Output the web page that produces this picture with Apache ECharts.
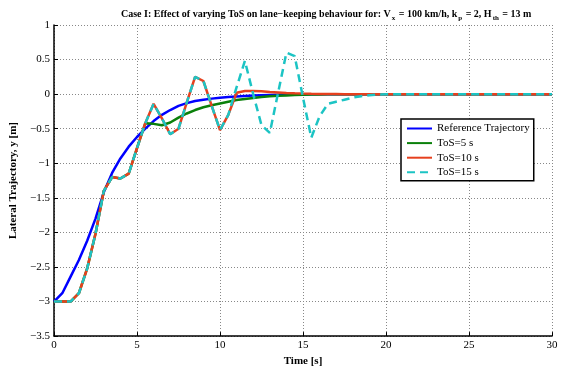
<!DOCTYPE html>
<html>
<head>
<meta charset="utf-8">
<script src="https://cdn.jsdelivr.net/npm/echarts@6/dist/echarts.min.js"></script>
<style>
  html, body { margin: 0; padding: 0; background: #fff; }
  #chart { width: 561px; height: 372px; }
</style>
</head>
<body>
<div id="chart"></div>
<script>
// time samples [s]
const time = [0, 0.5, 1, 1.5, 2, 2.5, 3, 3.5, 4, 4.5, 5, 5.5, 6, 6.5, 7, 7.5, 8, 8.5, 9, 9.5,
  10, 10.5, 11, 11.5, 12, 12.5, 13, 13.5, 14, 14.5, 15, 15.5, 16, 16.5, 17, 17.5, 18, 18.5, 19, 19.5, 20, 30];

const refTrajectory = [-3.0, -2.88, -2.64, -2.40, -2.12, -1.80, -1.42, -1.14, -0.93, -0.76, -0.62, -0.50, -0.39, -0.30, -0.23, -0.17, -0.13, -0.10, -0.08, -0.065,
  -0.052, -0.042, -0.034, -0.027, -0.021, -0.016, -0.012, -0.009, -0.007, -0.005, -0.004, -0.003, -0.002, -0.001, 0, 0, 0, 0, 0, 0, 0, 0];

const tos5 = [-3.0, -3.0, -3.0, -2.88, -2.52, -2.02, -1.40, -1.20, -1.22, -1.15, -0.78, -0.42, -0.43, -0.45, -0.41, -0.34, -0.28, -0.23, -0.19, -0.16,
  -0.135, -0.11, -0.085, -0.07, -0.055, -0.042, -0.032, -0.024, -0.018, -0.013, -0.009, -0.006, -0.004, -0.002, -0.001, 0, 0, 0, 0, 0, 0, 0];

const tos10 = [-3.0, -3.0, -3.0, -2.88, -2.52, -2.02, -1.40, -1.20, -1.22, -1.15, -0.78, -0.42, -0.14, -0.35, -0.58, -0.50, -0.12, 0.25, 0.19, -0.17,
  -0.52, -0.30, 0.02, 0.045, 0.045, 0.04, 0.032, 0.025, 0.018, 0.012, 0.008, 0.005, 0.003, 0.002, 0.001, 0, 0, 0, 0, 0, 0, 0];

const tos15 = [-3.0, -3.0, -3.0, -2.88, -2.52, -2.02, -1.40, -1.20, -1.22, -1.15, -0.78, -0.42, -0.14, -0.35, -0.58, -0.50, -0.12, 0.25, 0.19, -0.17,
  -0.52, -0.30, 0.10, 0.48, 0.0, -0.45, -0.56, 0.02, 0.60, 0.55, -0.05, -0.63, -0.32, -0.14, -0.11, -0.08, -0.05, -0.03, -0.015, -0.008, 0, 0];

const seriesNames = ['Reference Trajectory', 'ToS=5 s', 'ToS=10 s', 'ToS=15 s'];
const seriesColors = ['#0000ff', '#0a800a', '#e6401e', '#1cc4c4'];

const chart = echarts.init(document.getElementById('chart'));
const serif = '"Liberation Serif", "DejaVu Serif", serif';

function pairs(vals) {
  return time.map((t, i) => [t, vals[i]]);
}

const allData = [refTrajectory, tos5, tos10, tos15];

const option = {
  animation: false,
  backgroundColor: '#fff',
  title: {
    text: '{b|Case I: Effect of varying ToS on lane\u2212keeping behaviour for: V}{s|x}{b| = 100 km/h, k}{s|p}{b| = 2, H}{s|th}{b| = 13 m}',
    left: 116,
    top: 3,
    textStyle: {
      rich: {
        b: { fontFamily: serif, fontWeight: 'bold', fontSize: 10, color: '#000', lineHeight: 13 },
        s: { fontFamily: serif, fontWeight: 'bold', fontSize: 7, color: '#000', padding: [8, 1, 0, 1], lineHeight: 13 }
      }
    }
  },
  grid: { left: 52, right: 9, top: 25, bottom: 29, containLabel: false },
  legend: {
    orient: 'vertical',
    left: 401,
    top: 119,
    data: seriesNames,
    itemWidth: 25,
    itemHeight: 12,
    itemGap: 3.6,
    padding: [4, 4, 3, 5],
    borderColor: '#000',
    borderWidth: 1.5,
    backgroundColor: '#fff',
    itemStyle: { color: 'transparent', borderColor: 'transparent', borderWidth: 0, opacity: 0 },
    textStyle: { fontFamily: serif, fontSize: 11, color: '#000' }
  },
  xAxis: {
    type: 'value',
    min: 0,
    max: 30,
    interval: 5,
    name: 'Time [s]',
    nameLocation: 'middle',
    nameGap: 14,
    nameTextStyle: { fontFamily: serif, fontWeight: 'bold', fontSize: 11, color: '#000' },
    axisLine: { onZero: false, lineStyle: { color: '#000', width: 1.5 } },
    axisTick: { inside: true, length: 4, lineStyle: { color: '#000' } },
    axisLabel: { fontFamily: serif, fontSize: 11, color: '#000', margin: 4 },
    splitLine: { show: true, lineStyle: { color: '#888', type: [1, 2], width: 1 } }
  },
  yAxis: {
    type: 'value',
    min: -3.5,
    max: 1,
    interval: 0.5,
    name: 'Lateral Trajectory, y [m]',
    nameLocation: 'middle',
    nameGap: 35,
    nameTextStyle: { fontFamily: serif, fontWeight: 'bold', fontSize: 11, color: '#000' },
    axisLine: { show: true, onZero: false, lineStyle: { color: '#000', width: 1.5 } },
    axisTick: { show: true, inside: true, length: 4, lineStyle: { color: '#000' } },
    axisLabel: {
      fontFamily: serif, fontSize: 11, color: '#000', margin: 4,
      formatter: v => String(v).replace('-', '\u2212')
    },
    splitLine: { show: true, lineStyle: { color: '#888', type: [1, 2], width: 1 } }
  },
  series: seriesNames.map((name, i) => ({
    name: name,
    type: 'line',
    data: pairs(allData[i]),
    symbol: 'none',
    color: seriesColors[i],
    lineStyle: {
      color: seriesColors[i],
      width: 2.5,
      type: i === 3 ? [8, 5] : 'solid'
    },
    z: 2 + i
  }))
};

chart.setOption(option);
</script>
</body>
</html>
